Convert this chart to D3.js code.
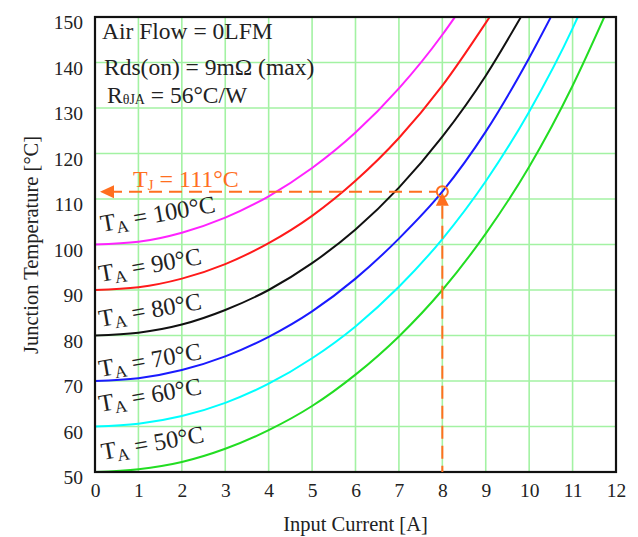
<!DOCTYPE html>
<html>
<head>
<meta charset="utf-8">
<script src="https://cdn.jsdelivr.net/npm/d3@7"></script>
<style>
  body { margin: 0; background: #fff; }
  text { font-family: "Liberation Serif", "Times New Roman", serif; fill: #222; }
</style>
</head>
<body>
<div id="chart"></div>
<script>
// axis ticks
const xTicks = [0, 1, 2, 3, 4, 5, 6, 7, 8, 9, 10, 11, 12];
const yTicks = [50, 60, 70, 80, 90, 100, 110, 120, 130, 140, 150];

// ambient temperatures, one curve each: [current A, junction temp °C]
const ambientTemps = [50, 60, 70, 80, 90, 100];
const curveTa50 = [[0, 50], [1, 50.6], [2, 52.2], [3, 55.1], [4, 59.2], [5, 64.5], [6, 71.4], [7, 79.8], [8, 90.0], [9, 102.4], [10, 117.1], [11, 134.9], [11.73, 150]];
const curveTa60 = [[0, 60], [1, 60.6], [2, 62.3], [3, 65.2], [4, 69.4], [5, 75.0], [6, 82.0], [7, 90.7], [8, 101.2], [9, 113.9], [10, 129.2], [11, 147.5], [11.12, 150]];
const curveTa70 = [[0, 70], [1, 70.6], [2, 72.4], [3, 75.4], [4, 79.7], [5, 85.3], [6, 92.5], [7, 101.3], [8, 111.6], [9, 124.8], [10, 141.0], [10.5, 150]];
const curveTa80 = [[0, 80], [1, 80.6], [2, 82.4], [3, 85.6], [4, 90.0], [5, 95.9], [6, 103.3], [7, 112.5], [8, 123.7], [9, 137.1], [9.81, 150]];
const curveTa90 = [[0, 90], [1, 90.6], [2, 92.5], [3, 95.7], [4, 100.3], [5, 106.3], [6, 114.0], [7, 123.4], [8, 134.9], [9, 148.7], [9.09, 150]];
const curveTa100 = [[0, 100], [1, 100.6], [2, 102.6], [3, 105.9], [4, 110.6], [5, 116.8], [6, 124.6], [7, 134.3], [8, 146.1], [8.29, 150]];
const curves = [curveTa50, curveTa60, curveTa70, curveTa80, curveTa90, curveTa100];

// operating point marked on the chart
const opCurrent = 8;
const opTemp = 111.6;
const opLabel = '111°C';

const curveColors = ['#22dd22', '#00ffff', '#1a1aff', '#111111', '#ff1a1a', '#ff22ff'];
const orange = '#ff6f1f';

const W = 638, H = 537;
const margin = { top: 17, right: 22, bottom: 65, left: 95 };
const width = W - margin.left - margin.right;
const height = H - margin.top - margin.bottom;

const svg = d3.select('#chart').append('svg')
  .attr('width', W)
  .attr('height', H);

const g = svg.append('g')
  .attr('transform', `translate(${margin.left},${margin.top})`);

const x = d3.scaleLinear().domain([0, 12]).range([0, width]);
const y = d3.scaleLinear().domain([50, 150]).range([height, 0]);

// grid
g.append('g')
  .selectAll('line.vgrid')
  .data(xTicks.slice(1, -1))
  .enter().append('line')
    .attr('x1', d => x(d)).attr('x2', d => x(d))
    .attr('y1', 0).attr('y2', height)
    .attr('stroke', '#a3f2a3').attr('stroke-width', 1.6);

g.append('g')
  .selectAll('line.hgrid')
  .data(yTicks.slice(1, -1))
  .enter().append('line')
    .attr('x1', 0).attr('x2', width)
    .attr('y1', d => y(d)).attr('y2', d => y(d))
    .attr('stroke', '#a3f2a3').attr('stroke-width', 1.6);

// tick labels
const xAxis = g.append('g')
  .attr('transform', `translate(0,${height})`)
  .call(d3.axisBottom(x).tickValues(xTicks).tickSize(0).tickPadding(11).tickFormat(d3.format('d')));
xAxis.select('.domain').remove();
xAxis.selectAll('text')
  .style('font-family', '"Liberation Serif", serif')
  .style('font-size', '19.5px')
  .attr('fill', '#222');

const yAxis = g.append('g')
  .call(d3.axisLeft(y).tickValues(yTicks).tickSize(0).tickPadding(12).tickFormat(d3.format('d')));
yAxis.select('.domain').remove();
yAxis.selectAll('text')
  .style('font-family', '"Liberation Serif", serif')
  .style('font-size', '19.5px')
  .attr('fill', '#222')
  .attr('dy', '0.6em');

// curves
g.append('clipPath').attr('id', 'plot-clip')
  .append('rect').attr('width', width).attr('height', height);

const line = d3.line()
  .x(d => x(d[0]))
  .y(d => y(d[1]))
  .curve(d3.curveMonotoneX);

const curveLayer = g.append('g').attr('clip-path', 'url(#plot-clip)');
curves.forEach((c, i) => {
  curveLayer.append('path')
    .datum(c)
    .attr('d', line)
    .attr('fill', 'none')
    .attr('stroke', curveColors[i])
    .attr('stroke-width', 2);
});

// frame
g.append('rect')
  .attr('width', width).attr('height', height)
  .attr('fill', 'none')
  .attr('stroke', '#111')
  .attr('stroke-width', 2.2);

// ambient labels (pixel offset above each curve start)
const labelShift = [-12, -14.5, -4, -8.5, -8, -12.5];
const labelLeft = [0.18, 0.12, 0.12, 0.12, 0.12, 0.16];
ambientTemps.forEach((t, i) => {
  const lx = x(labelLeft[i]);
  const ly = y(t) + labelShift[i];
  const txt = g.append('text')
    .attr('transform', `translate(${lx},${ly}) rotate(-10)`)
    .style('font-size', '24.5px');
  txt.append('tspan').text('T');
  txt.append('tspan').attr('dy', 4).style('font-size', '17px').text('A');
  txt.append('tspan').attr('dy', -4).text(` = ${t}°C`);
});

// info block
g.append('text').attr('x', 7).attr('y', 22).style('font-size', '23.5px').text('Air Flow = 0LFM');
g.append('text').attr('x', 9).attr('y', 58).style('font-size', '23.5px').text('Rds(on) = 9mΩ (max)');
const rth = g.append('text').attr('x', 12).attr('y', 86).style('font-size', '23.5px');
rth.append('tspan').text('R');
rth.append('tspan').attr('dy', 1).style('font-size', '14px').text('θJA');
rth.append('tspan').attr('dy', -1).text(' = 56°C/W');

// operating point annotation
const px = x(opCurrent), py = y(opTemp);
g.append('line')
  .attr('x1', 14).attr('x2', px - 6)
  .attr('y1', py).attr('y2', py)
  .attr('stroke', orange).attr('stroke-width', 2)
  .attr('stroke-dasharray', '13,7');
g.append('line')
  .attr('x1', px).attr('x2', px)
  .attr('y1', py + 14).attr('y2', height)
  .attr('stroke', orange).attr('stroke-width', 2)
  .attr('stroke-dasharray', '13,7');
g.append('path')
  .attr('d', `M${5},${py} L${19},${py - 6.5} L${19},${py + 6.5} Z`)
  .attr('fill', orange);
g.append('path')
  .attr('d', `M${px},${py + 1} L${px - 6.5},${py + 14} L${px + 6.5},${py + 14} Z`)
  .attr('fill', orange);
g.append('circle')
  .attr('cx', px).attr('cy', py).attr('r', 5.5)
  .attr('fill', 'none').attr('stroke', orange).attr('stroke-width', 2);

const tj = g.append('text')
  .attr('x', 38).attr('y', py - 5)
  .style('font-size', '24px').style('fill', orange);
tj.append('tspan').text('T');
tj.append('tspan').attr('dy', 3).style('font-size', '15px').text('J');
tj.append('tspan').attr('dy', -3).text(` = ${opLabel}`);

// axis titles
svg.append('text')
  .attr('x', margin.left + width / 2)
  .attr('y', 531)
  .attr('text-anchor', 'middle')
  .style('font-size', '20.5px')
  .text('Input Current [A]');

svg.append('text')
  .attr('transform', `translate(38,245) rotate(-90)`)
  .attr('text-anchor', 'middle')
  .style('font-size', '20.5px')
  .text('Junction Temperature [°C]');
</script>
</body>
</html>
